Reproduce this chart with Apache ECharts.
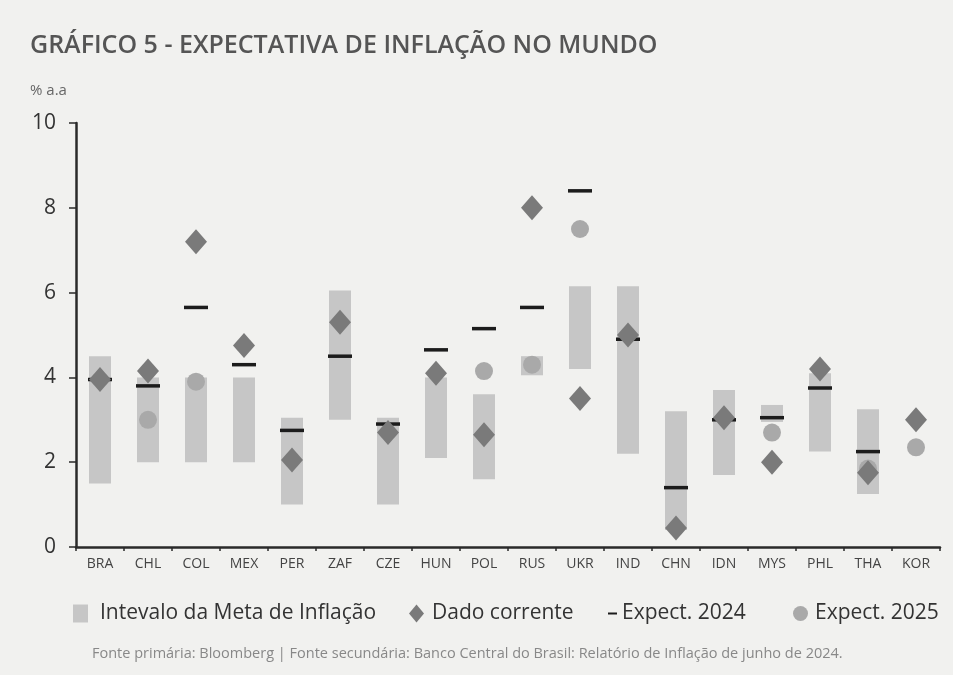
<!DOCTYPE html>
<html lang="pt">
<head>
    <meta charset="UTF-8">
    <title>Expectativa de inflação no mundo</title>
    <style>
        html, body { margin: 0; padding: 0; background: #f1f1ef; }
        #main { width: 953px; height: 675px; }
    </style>
</head>
<body>
    <div id="main"></div>
    <script src="https://cdn.jsdelivr.net/npm/echarts@6/dist/echarts.min.js"></script>
    <script>
        var paises = ['BRA', 'CHL', 'COL', 'MEX', 'PER', 'ZAF', 'CZE', 'HUN', 'POL', 'RUS', 'UKR', 'IND', 'CHN', 'IDN', 'MYS', 'PHL', 'THA', 'KOR'];
        // intervalo da meta (piso e teto)
        var metaPiso = [1.5, 2.0, 2.0, 2.0, 1.0, 3.0, 1.0, 2.1, 1.6, 4.05, 4.2, 2.2, 0.4, 1.7, 2.95, 2.25, 1.25, null];
        var metaTeto = [4.5, 4.0, 4.0, 4.0, 3.05, 6.05, 3.05, 4.0, 3.6, 4.5, 6.15, 6.15, 3.2, 3.7, 3.35, 4.1, 3.25, null];
        var dadoCorrente = [3.95, 4.15, 7.2, 4.75, 2.05, 5.3, 2.7, 4.1, 2.65, 8.0, 3.5, 5.0, 0.45, 3.05, 2.0, 4.2, 1.75, 3.0];
        var expect2024 = [3.95, 3.8, 5.65, 4.3, 2.75, 4.5, 2.9, 4.65, 5.15, 5.65, 8.4, 4.9, 1.4, 3.0, 3.05, 3.75, 2.25, null];
        var expect2025 = [null, 3.0, 3.9, null, null, null, null, null, 4.15, 4.3, 7.5, null, null, null, 2.7, null, 1.85, 2.35];

        var faixa = metaTeto.map(function (t, i) {
            return t == null ? null : +(t - metaPiso[i]).toFixed(2);
        });

        var txt = '#333';
        var fonte = '"Open Sans", "Noto Sans", sans-serif';
        function legTxt(pad) {
            return { fontSize: 21, color: txt, padding: [0, 0, 0, pad] };
        }

        var myChart = echarts.init(document.getElementById('main'));
        var option = {
            backgroundColor: '#f1f1ef',
            animation: false,
            textStyle: { fontFamily: fonte },
            title: [
                {
                    text: 'GRÁFICO 5 - EXPECTATIVA DE INFLAÇÃO NO MUNDO',
                    left: 25, top: 28,
                    textStyle: { fontSize: 25, fontWeight: 600, color: '#555', fontFamily: fonte }
                },
                {
                    text: '% a.a',
                    left: 25, top: 78,
                    textStyle: { fontSize: 15, fontWeight: 'normal', color: '#666', fontFamily: fonte }
                },
                {
                    text: 'Fonte primária: Bloomberg | Fonte secundária: Banco Central do Brasil: Relatório de Inflação de junho de 2024.',
                    left: 87, top: 641,
                    textStyle: { fontSize: 14.5, fontWeight: 'normal', color: '#888', fontFamily: fonte }
                }
            ],
            legend: [
                {
                    left: 68, top: 598, selectedMode: false,
                    itemWidth: 15, itemHeight: 18,
                    textStyle: legTxt(7),
                    data: [{ name: 'Intevalo da Meta de Inflação', icon: 'rect' }]
                },
                {
                    left: 404, top: 598, selectedMode: false,
                    itemWidth: 15, itemHeight: 18,
                    textStyle: legTxt(3),
                    data: [{ name: 'Dado corrente', icon: 'diamond' }]
                },
                {
                    left: 603, top: 598, selectedMode: false,
                    itemWidth: 9, itemHeight: 18,
                    textStyle: legTxt(0),
                    data: [{ name: 'Expect. 2024', icon: 'path://M0,0h0.01v0.01h-0.01z M0,8h9v2h-9z M0,18h0.01v0.01h-0.01z' }]
                },
                {
                    left: 788, top: 598, selectedMode: false,
                    itemWidth: 15, itemHeight: 18,
                    textStyle: legTxt(2),
                    data: [{ name: 'Expect. 2025', icon: 'circle' }]
                }
            ],
            grid: { left: 76, right: 13, top: 123, bottom: 128 },
            xAxis: {
                type: 'category',
                data: paises,
                axisLine: { lineStyle: { color: '#2a2a2a', width: 2.5 } },
                axisTick: { show: true, length: 4, lineStyle: { color: '#2a2a2a', width: 1.5 } },
                axisLabel: { fontSize: 14, color: '#444', margin: 10 }
            },
            yAxis: {
                type: 'value',
                min: 0, max: 10, interval: 2,
                axisLine: { show: true, lineStyle: { color: '#2a2a2a', width: 2.5 } },
                axisTick: { show: true, length: 7, lineStyle: { color: '#2a2a2a', width: 1.5 } },
                axisLabel: { fontSize: 21, color: txt, margin: 20 },
                splitLine: { show: false }
            },
            series: [
                {
                    name: 'base',
                    type: 'bar',
                    stack: 'meta',
                    barWidth: 22,
                    silent: true,
                    itemStyle: { color: 'rgba(0,0,0,0)' },
                    data: metaPiso
                },
                {
                    name: 'Intevalo da Meta de Inflação',
                    type: 'bar',
                    stack: 'meta',
                    barWidth: 22,
                    itemStyle: { color: '#c6c6c6' },
                    data: faixa
                },
                {
                    name: 'Expect. 2025',
                    type: 'scatter',
                    symbol: 'circle',
                    symbolSize: 18,
                    z: 3,
                    itemStyle: { color: '#a9a9a9', opacity: 1 },
                    data: expect2025
                },
                {
                    name: 'Expect. 2024',
                    type: 'scatter',
                    symbol: 'rect',
                    symbolSize: [24, 3.5],
                    z: 4,
                    itemStyle: { color: '#1c1c1c', opacity: 1 },
                    data: expect2024
                },
                {
                    name: 'Dado corrente',
                    type: 'scatter',
                    symbol: 'diamond',
                    symbolSize: [22, 25],
                    z: 5,
                    itemStyle: { color: '#7a7a7a', opacity: 1 },
                    data: dadoCorrente
                }
            ]
        };
        myChart.setOption(option);
    </script>
</body>
</html>
